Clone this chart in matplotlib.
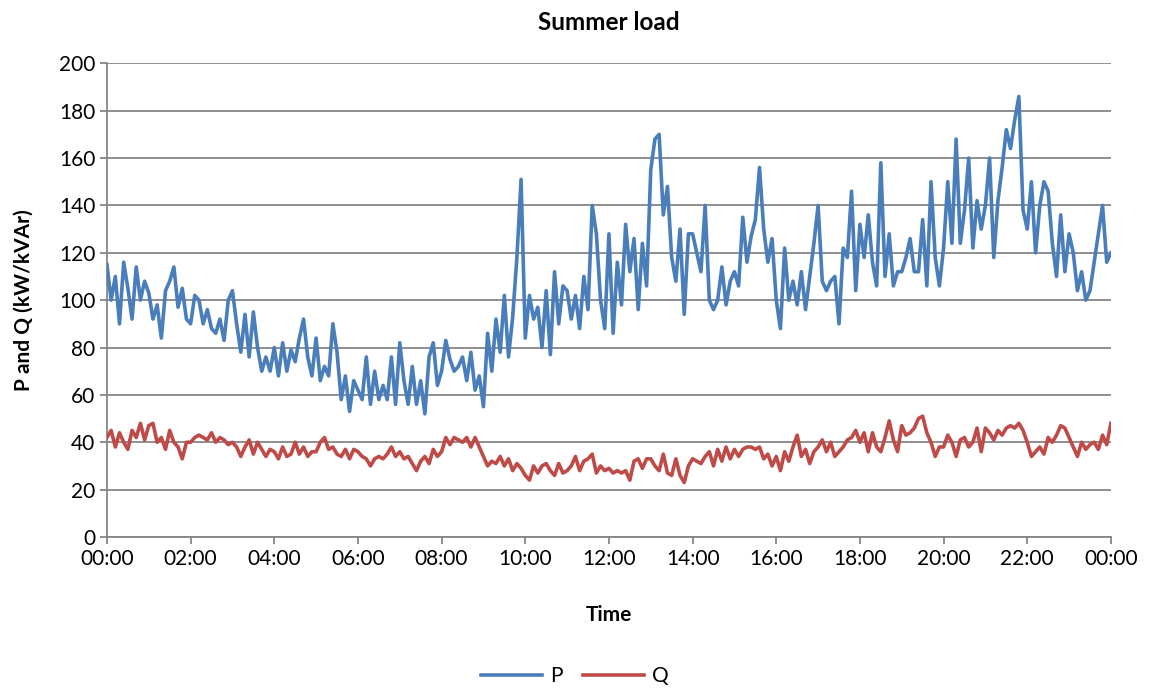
import numpy as np
import matplotlib
matplotlib.use("Agg")
import matplotlib.pyplot as plt
from matplotlib.ticker import MultipleLocator

plt.rcParams["font.family"] = ["Lato", "DejaVu Sans"]

# 6-minute samples, one row per hour, plus the closing sample at 24:00
p_load = [
    115, 100, 110, 90, 116, 105, 92, 114, 100, 108,
    103, 92, 98, 84, 104, 108, 114, 97, 105, 92,
    90, 102, 100, 90, 96, 88, 86, 92, 83, 100,
    104, 90, 78, 94, 76, 95, 80, 70, 76, 70,
    80, 68, 82, 70, 79, 74, 84, 92, 76, 68,
    84, 66, 72, 68, 90, 78, 58, 68, 53, 66,
    62, 58, 76, 56, 70, 58, 64, 58, 76, 56,
    82, 66, 56, 72, 56, 66, 52, 76, 82, 64,
    70, 83, 75, 70, 72, 76, 66, 78, 62, 68,
    55, 86, 70, 92, 78, 102, 76, 93, 118, 151,
    84, 102, 92, 97, 80, 104, 77, 112, 90, 106,
    104, 92, 102, 88, 110, 96, 140, 128, 100, 88,
    128, 86, 116, 98, 132, 112, 126, 96, 124, 106,
    155, 168, 170, 136, 148, 118, 108, 130, 94, 128,
    128, 120, 112, 140, 100, 96, 100, 114, 98, 108,
    112, 106, 135, 116, 127, 134, 156, 130, 116, 126,
    100, 88, 122, 100, 108, 98, 112, 96, 110, 124,
    140, 108, 104, 108, 110, 90, 122, 118, 146, 104,
    132, 118, 136, 116, 106, 158, 110, 128, 106, 112,
    112, 118, 126, 112, 112, 134, 106, 150, 118, 106,
    122, 150, 124, 168, 124, 138, 160, 122, 142, 130,
    140, 160, 118, 142, 156, 172, 164, 176, 186, 138,
    130, 150, 120, 140, 150, 146, 124, 110, 136, 112,
    128, 120, 104, 112, 100, 104, 116, 128, 140, 116,
    120,
]

q_load = [
    42, 45, 38, 44, 40, 37, 45, 42, 48, 41,
    47, 48, 40, 42, 37, 45, 40, 38, 33, 40,
    40, 42, 43, 42, 41, 44, 40, 42, 41, 39,
    40, 38, 34, 38, 41, 35, 40, 37, 34, 37,
    36, 33, 38, 34, 35, 40, 35, 38, 34, 36,
    36, 40, 42, 37, 38, 35, 34, 37, 33, 37,
    36, 34, 33, 30, 33, 34, 33, 35, 38, 34,
    36, 33, 34, 31, 28, 32, 34, 31, 37, 34,
    36, 42, 39, 42, 41, 40, 42, 38, 42, 38,
    34, 30, 32, 31, 34, 30, 33, 28, 31, 29,
    26, 24, 30, 27, 30, 31, 28, 26, 31, 27,
    28, 30, 34, 28, 32, 33, 35, 27, 30, 28,
    29, 27, 28, 27, 28, 24, 32, 33, 29, 33,
    33, 30, 28, 35, 27, 26, 33, 26, 23, 30,
    33, 32, 31, 34, 36, 30, 37, 32, 38, 33,
    37, 34, 37, 38, 38, 37, 38, 33, 35, 30,
    34, 28, 36, 32, 38, 43, 34, 37, 31, 36,
    38, 41, 36, 40, 34, 36, 38, 41, 42, 45,
    40, 44, 36, 44, 38, 36, 42, 49, 41, 36,
    47, 43, 44, 46, 50, 51, 44, 40, 34, 38,
    38, 43, 40, 34, 41, 42, 38, 40, 46, 36,
    46, 44, 41, 45, 43, 46, 47, 46, 48, 45,
    40, 34, 36, 38, 35, 42, 40, 43, 47, 46,
    42, 38, 34, 40, 37, 39, 40, 37, 43, 39,
    48,
]

hours = np.arange(len(p_load)) / 10.0
tick_hours = np.arange(0, 25, 2)
tick_labels = [f"{h % 24:02d}:00" for h in tick_hours]

P_COLOR = "#4a7ebb"
Q_COLOR = "#be4b48"
GRID = "#868686"
FS = 15

fig = plt.figure(figsize=(11.5, 6.88), dpi=100)
ax = fig.add_axes([0.093, 0.2195, 0.873, 0.6885])

ax.plot(hours, p_load, color=P_COLOR, linewidth=2.6, label="P", zorder=3)
ax.plot(hours, q_load, color=Q_COLOR, linewidth=2.6, label="Q", zorder=3)

ax.set_xlim(0, 24)
ax.set_ylim(0, 200)
ax.yaxis.set_major_locator(MultipleLocator(20))
ax.set_xticks(tick_hours)
ax.set_xticklabels(tick_labels)

ax.grid(axis="y", color=GRID, linewidth=1.3)
ax.set_axisbelow(True)
for side in ("top", "right"):
    ax.spines[side].set_visible(False)
for side in ("left", "bottom"):
    ax.spines[side].set_color(GRID)
    ax.spines[side].set_linewidth(1.3)
ax.tick_params(axis="both", colors=GRID, length=5, width=1.3, labelsize=FS,
               labelcolor="black")

ax.set_title("Summer load", fontsize=17.5, fontweight="bold", pad=24)
ax.set_xlabel("Time", fontsize=FS, fontweight="bold", labelpad=26)
ax.set_ylabel("P and Q (kW/kVAr)", fontsize=FS, fontweight="bold", labelpad=18)

fig.legend(loc="lower center", bbox_to_anchor=(0.5, -0.025), ncol=2, frameon=False,
           fontsize=FS, handlelength=2.9, columnspacing=1.0, handletextpad=0.4)

fig.savefig("out.png", dpi=100)
plt.close(fig)
